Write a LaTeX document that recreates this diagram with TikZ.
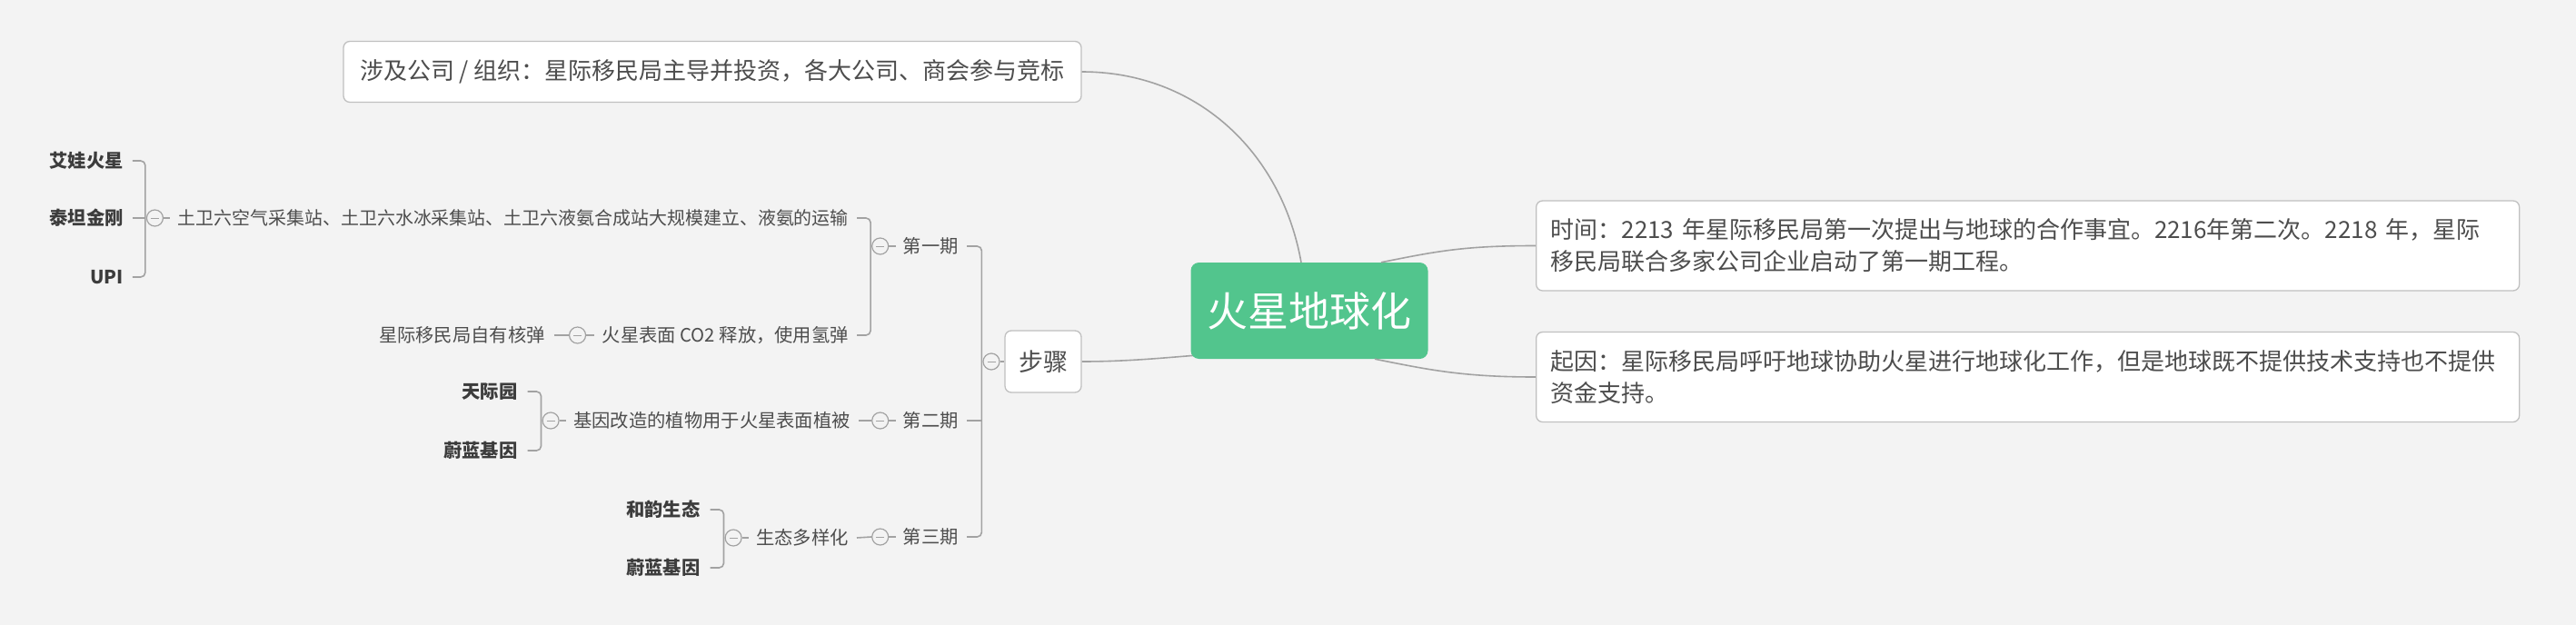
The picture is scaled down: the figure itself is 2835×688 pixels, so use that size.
\documentclass[tikz,border=0pt]{standalone}
\usepackage{fontspec}
\setmainfont{Noto Sans CJK SC}
\definecolor{bgc}{RGB}{243,243,243}
\definecolor{mgreen}{RGB}{82,197,141}
\definecolor{txt}{RGB}{77,77,77}
\definecolor{txtdark}{RGB}{60,60,60}
\definecolor{lin}{RGB}{162,162,162}
\definecolor{bord}{RGB}{192,192,192}
\pgfdeclarelayer{background}
\pgfsetlayers{background,main}
\begin{document}
\begin{tikzpicture}[x=1pt,y=-1pt,
 conn/.style={draw=lin, line width=1.6pt},
 tree/.style={conn, rounded corners=5pt},
 lbl/.style={text=txt, font=\fontsize{20.3}{24}\selectfont, inner sep=0pt, anchor=east},
 leaf/.style={lbl, text=txtdark, font=\fontsize{20.3}{24}\selectfont\bfseries},
 topic/.style={draw=bord, line width=1.3pt, fill=white, rounded corners=7pt, text=txt},
 fold/.style={circle, draw=lin, line width=1.2pt, fill=bgc, minimum size=18pt, inner sep=0pt,
   path picture={\draw[lin, line width=1pt] ([xshift=-4.5pt]path picture bounding box.center) -- ([xshift=4.5pt]path picture bounding box.center);}},
]
\begin{pgfonlayer}{background}
\fill[bgc] (0,0) rectangle (2835,688);
\end{pgfonlayer}
\useasboundingbox (0,0) rectangle (2835,688);

% central topic
\node[fill=mgreen, rounded corners=9pt, minimum width=261pt, minimum height=106pt, inner sep=0pt, text=white, font=\fontsize{45}{50}\selectfont] (root) at (1441,342) {火星地球化};

% main topics
\node[topic, minimum width=812pt, minimum height=67pt, inner sep=0pt, font=\fontsize{26}{30}\selectfont] (inv) at (784,79) {涉及公司 / 组织：星际移民局主导并投资，各大公司、商会参与竞标};

\node[topic, anchor=west, minimum height=99pt, inner xsep=16pt, text width=1050pt, align=left, font=\fontsize{26}{35}\selectfont] (time) at (1690,270.5) {时间：2213 年星际移民局第一次提出与地球的合作事宜。2216年第二次。2218 年，星际\\移民局联合多家公司企业启动了第一期工程。};

\node[topic, anchor=west, minimum height=99pt, inner xsep=16pt, text width=1050pt, align=left, font=\fontsize{26}{35}\selectfont] (cause) at (1690,415) {起因：星际移民局呼吁地球协助火星进行地球化工作，但是地球既不提供技术支持也不提供\\资金支持。};

\node[topic, minimum width=84pt, minimum height=68pt, inner sep=0pt, font=\fontsize{27}{30}\selectfont] (steps) at (1148,398) {步骤};

\coordinate (rootin) at (1330,390);
\draw[conn] ([xshift=-9pt]root.north) .. controls +(-22,-123) and +(125,0) .. (inv.east);
\draw[conn] ([xshift=79pt]root.north) .. controls +(60,-12) and +(-80,0) .. (time.west);
\draw[conn] ([xshift=72pt]root.south) .. controls +(60,12) and +(-80,0) .. (cause.west);
\begin{pgfonlayer}{background}
\draw[conn] (steps.east) .. controls +(50,0) and +(-50,4) .. (rootin);
\end{pgfonlayer}

% phases
\node[lbl] (p1) at (1055,271) {第一期};
\node[lbl] (p2) at (1055,463) {第二期};
\node[lbl] (p3) at (1055,591) {第三期};
\node[fold] (f0) at (1091,398) {};
\coordinate (b0) at ([xshift=-1pt]f0.west);
\draw[tree] ([xshift=9pt]p1.east) -| (b0) |- ([xshift=9pt]p3.east);
\draw[conn] ([xshift=9pt]p2.east) -- (b0 |- p2.east);
\draw[conn] (f0.east) -- (steps.west);

% phase 1
\node[lbl, font=\fontsize{19.95}{24}\selectfont] (a1) at (934,240) {土卫六空气采集站、土卫六水冰采集站、土卫六液氨合成站大规模建立、液氨的运输};
\node[lbl] (a2) at (934,369) {火星表面 CO2 释放，使用氢弹};
\node[fold] (f1) at ([xshift=-25pt]p1.west) {};
\draw[conn] (f1.east) -- ([xshift=-8pt]p1.west);
\coordinate (b1) at ([xshift=-1pt]f1.west);
\draw[tree] ([xshift=9pt]a1.east) -| (b1) |- ([xshift=9pt]a2.east);

\node[fold] (fa1) at ([xshift=-25pt]a1.west) {};
\draw[conn] (fa1.east) -- ([xshift=-8pt]a1.west);
\coordinate (ba1) at ([xshift=-1pt]fa1.west);
\node[leaf] (l11) at ([xshift=-24pt, yshift=63pt]ba1) {艾娃火星};
\node[leaf] (l12) at ([xshift=-24pt]ba1) {泰坦金刚};
\node[leaf] (l13) at ([xshift=-24pt, yshift=-65pt]ba1) {UPI};
\draw[tree] ([xshift=10pt]l11.east) -| (ba1) |- ([xshift=10pt]l13.east);
\draw[conn] ([xshift=10pt]l12.east) -- (ba1);

\node[fold] (fa2) at ([xshift=-27pt]a2.west) {};
\draw[conn] (fa2.east) -- ([xshift=-9pt]a2.west);
\node[lbl] (l21) at ([xshift=-26pt]fa2.west) {星际移民局自有核弹};
\draw[conn] ([xshift=10pt]l21.east) -- (fa2.west);

% phase 2
\node[lbl] (g1) at (936,463) {基因改造的植物用于火星表面植被};
\node[fold] (f2) at ([xshift=-25pt]p2.west) {};
\draw[conn] (f2.east) -- ([xshift=-8pt]p2.west);
\draw[conn] ([xshift=9pt]g1.east) -- (f2.west);
\node[fold] (fg) at ([xshift=-25pt]g1.west) {};
\draw[conn] (fg.east) -- ([xshift=-8pt]g1.west);
\coordinate (bg1) at ([xshift=-1pt]fg.west);
\node[leaf] (l31) at ([xshift=-26pt, yshift=32pt]bg1) {天际园};
\node[leaf] (l32) at ([xshift=-26pt, yshift=-33pt]bg1) {蔚蓝基因};
\draw[tree] ([xshift=11pt]l31.east) -| (bg1) |- ([xshift=11pt]l32.east);

% phase 3
\node[lbl] (h1) at (934,592) {生态多样化};
\node[fold] (f3) at ([xshift=-25pt]p3.west) {};
\draw[conn] (f3.east) -- ([xshift=-8pt]p3.west);
\draw[conn] ([xshift=9pt]h1.east) -- (f3.west);
\node[fold] (fh) at ([xshift=-25pt]h1.west) {};
\draw[conn] (fh.east) -- ([xshift=-8pt]h1.west);
\coordinate (bh) at ([xshift=-1pt]fh.west);
\node[leaf] (l41) at ([xshift=-26pt, yshift=31pt]bh) {和韵生态};
\node[leaf] (l42) at ([xshift=-26pt, yshift=-33pt]bh) {蔚蓝基因};
\draw[tree] ([xshift=11pt]l41.east) -| (bh) |- ([xshift=11pt]l42.east);
\end{tikzpicture}
\end{document}
